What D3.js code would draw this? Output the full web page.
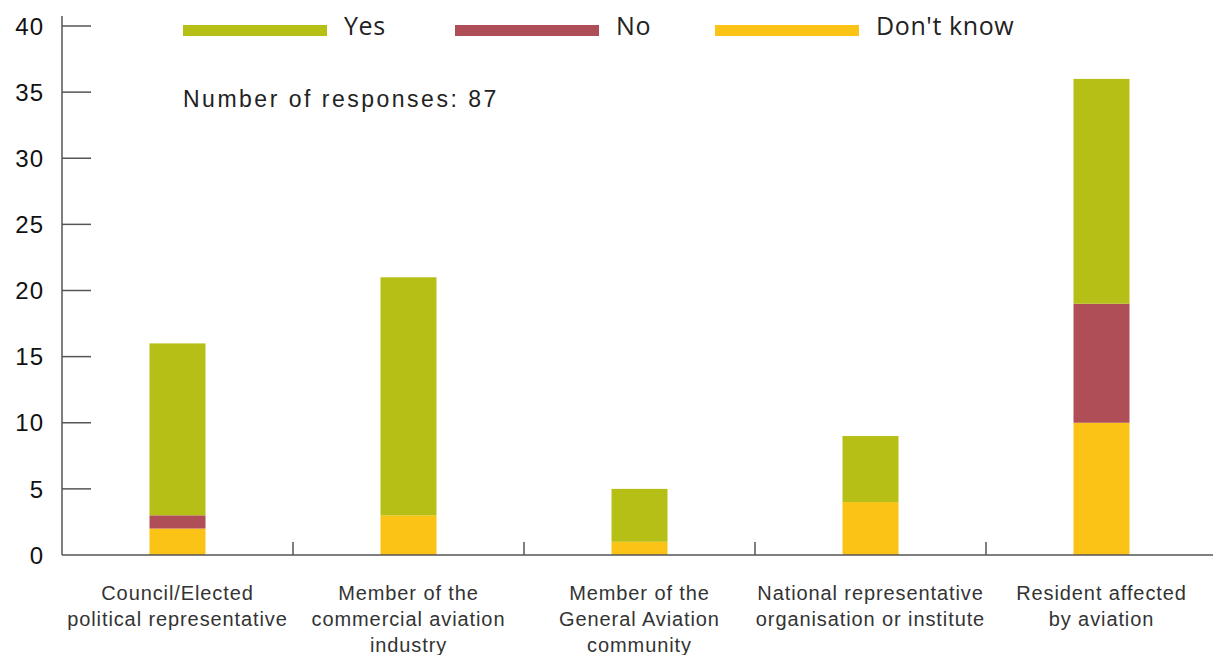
<!DOCTYPE html>
<html><head><meta charset="utf-8">
<script src="https://cdn.jsdelivr.net/npm/d3@7"></script>
<style>body{margin:0;background:#fff}svg{display:block}text{font-family:"Liberation Sans",Arial,sans-serif}text.leg{font-family:"Open Sans",sans-serif}</style>
</head><body><svg id="c" width="1213" height="655"></svg>
<script>
const categories = [
  ["Council/Elected","political representative"],
  ["Member of the","commercial aviation","industry"],
  ["Member of the","General Aviation","community"],
  ["National representative","organisation or institute"],
  ["Resident affected","by aviation"]
];
const seriesNames = ["Don't know","No","Yes"];
const dontKnow = [2,3,1,4,10];
const no = [1,0,0,0,9];
const yes = [13,18,4,5,17];
const yTicks = [0,5,10,15,20,25,30,35,40];
const colors = {"Yes":"#b5bf16","No":"#b04e57","Don't know":"#fbc316"};
const legendOrder = ["Yes","No","Don't know"];

const svg = d3.select("#c");
const x0 = 62, x1 = 1217, yTop = 26, yBot = 555;
const x = d3.scaleBand().domain(d3.range(categories.length)).range([x0,x1]).paddingInner(0).paddingOuter(0);
const y = d3.scaleLinear().domain([0,40]).range([yBot,yTop]);
const barW = 56;

const rows = categories.map((c,i)=>({i,"Don't know":dontKnow[i],"No":no[i],"Yes":yes[i]}));
const stack = d3.stack().keys(seriesNames)(rows);

svg.append("g").selectAll("g").data(stack).join("g")
  .attr("fill",d=>colors[d.key])
  .selectAll("rect").data(d=>d).join("rect")
  .attr("x",d=>x(d.data.i)+x.bandwidth()/2-barW/2)
  .attr("width",barW)
  .attr("y",d=>y(d[1]))
  .attr("height",d=>y(d[0])-y(d[1]));

const ax = "#555";
// y axis
svg.append("line").attr("x1",x0).attr("x2",x0).attr("y1",yTop-10).attr("y2",yBot).attr("stroke",ax).attr("stroke-width",1.5);
const yg = svg.append("g");
yTicks.forEach(t=>{
  if(t>0) yg.append("line").attr("x1",x0).attr("x2",x0+29).attr("y1",y(t)).attr("y2",y(t)).attr("stroke",ax).attr("stroke-width",1.5);
  yg.append("text").attr("x",44).attr("y",y(t)).attr("dy","0.36em").attr("text-anchor","end")
    .attr("font-size",24).attr("letter-spacing",1).attr("fill","#111").text(t);
});
// x axis
svg.append("line").attr("x1",x0).attr("x2",1213).attr("y1",yBot).attr("y2",yBot).attr("stroke",ax).attr("stroke-width",1.5);
d3.range(1,categories.length).forEach(i=>{
  svg.append("line").attr("x1",x(i)).attr("x2",x(i)).attr("y1",yBot).attr("y2",yBot-13).attr("stroke",ax).attr("stroke-width",1.5);
});
categories.forEach((lines,i)=>{
  const t = svg.append("text").attr("text-anchor","middle").attr("font-size",20).attr("letter-spacing",0.9).attr("fill","#333");
  lines.forEach((l,j)=>t.append("tspan").attr("x",x(i)+x.bandwidth()/2).attr("y",600+j*26).text(l));
});

// legend
const legX = [183,455,715];
legendOrder.forEach((k,i)=>{
  svg.append("rect").attr("x",legX[i]).attr("y",25).attr("width",144).attr("height",11).attr("fill",colors[k]);
  svg.append("text").attr("class","leg").attr("x",legX[i]+161).attr("y",35).attr("font-size",25).attr("letter-spacing",0.6)
    .attr("fill","#222").text(k);
});
svg.append("text").attr("x",183).attr("y",107).attr("font-size",23).attr("letter-spacing",2.5).attr("fill","#222").text("Number of responses: 87");
</script></body></html>
